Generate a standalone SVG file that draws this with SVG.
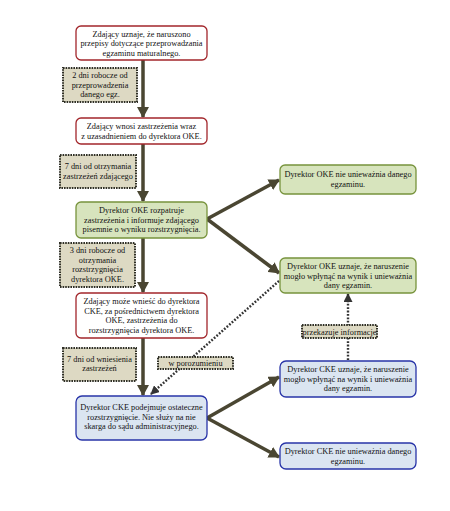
<svg xmlns="http://www.w3.org/2000/svg" width="450" height="511" viewBox="0 0 450 511">
<defs>
<style>
text{font-family:"Liberation Serif","Times New Roman",serif;font-size:8.3px;fill:#111111;text-anchor:middle}
.red{fill:#ffffff;stroke:#a2262b;stroke-width:1.3}
.grn{fill:#d7e4bd;stroke:#77933c;stroke-width:1.3}
.blu{fill:#dbe5f1;stroke:#2834a8;stroke-width:1.3}
.lab{fill:#ddd9c3;stroke:#2f2f25;stroke-width:2;stroke-dasharray:1.6 1}
.arr{stroke:#4a4632;stroke-width:3.5;fill:none}
.dot{stroke:#333333;stroke-width:2.4;stroke-dasharray:1.8 1.6;fill:none}
</style>
<marker id="ah" markerUnits="userSpaceOnUse" markerWidth="12" markerHeight="12" refX="10" refY="6" orient="auto">
<path d="M0,0 L11,6 L0,12 z" fill="#4a4632"/>
</marker>
<marker id="ahd" markerUnits="userSpaceOnUse" markerWidth="9" markerHeight="9" refX="8" refY="4.5" orient="auto">
<path d="M0,0 L9,4.5 L0,9 z" fill="#333333"/>
</marker>
</defs>
<rect width="450" height="511" fill="#ffffff"/>

<g id="connectors">
<line class="arr" x1="143" y1="60" x2="143" y2="117" marker-end="url(#ah)"/>
<line class="arr" x1="143" y1="144" x2="143" y2="201" marker-end="url(#ah)"/>
<line class="arr" x1="143" y1="238" x2="143" y2="292" marker-end="url(#ah)"/>
<line class="arr" x1="143" y1="338" x2="143" y2="395" marker-end="url(#ah)"/>
<line class="arr" x1="207" y1="219" x2="279" y2="180" marker-end="url(#ah)"/>
<line class="arr" x1="207" y1="219" x2="279" y2="273" marker-end="url(#ah)"/>
<line class="arr" x1="207" y1="418" x2="279" y2="377" marker-end="url(#ah)"/>
<line class="arr" x1="207" y1="418" x2="279" y2="457" marker-end="url(#ah)"/>
<line class="dot" x1="279" y1="281" x2="151" y2="394" marker-end="url(#ahd)"/>
<line class="dot" x1="348" y1="360" x2="348" y2="294" marker-end="url(#ahd)"/>
</g>

<g id="n1">
<rect class="red" x="76" y="26" width="131" height="34" rx="5"/>
<text x="141.5" y="36.5">Zdający uznaje, że naruszono</text>
<text x="141.5" y="46">przepisy dotyczące przeprowadzania</text>
<text x="141.5" y="55.5">egzaminu maturalnego.</text>
</g>
<g id="l1">
<rect class="lab" x="63" y="68" width="74" height="34"/>
<text x="100" y="78">2 dni robocze od</text>
<text x="100" y="87.5">przeprowadzenia</text>
<text x="100" y="97">danego egz.</text>
</g>
<g id="n2">
<rect class="red" x="76" y="118" width="131" height="26" rx="5"/>
<text x="141.5" y="129">Zdający wnosi zastrzeżenia wraz</text>
<text x="141.5" y="138.5">z uzasadnieniem do dyrektora OKE.</text>
</g>
<g id="l2">
<rect class="lab" x="60" y="155" width="76" height="33"/>
<text x="98" y="169">7 dni od otrzymania</text>
<text x="98" y="178.5">zastrzeżeń zdającego</text>
</g>
<g id="n3">
<rect class="grn" x="76" y="202" width="131" height="36" rx="5"/>
<text x="141.5" y="213">Dyrektor OKE rozpatruje</text>
<text x="141.5" y="222.5">zastrzeżenia i informuje zdającego</text>
<text x="141.5" y="232">pisemnie o wyniku rozstrzygnięcia.</text>
</g>
<g id="l3">
<rect class="lab" x="60" y="243" width="75" height="44"/>
<text x="97.5" y="253">3 dni robocze od</text>
<text x="97.5" y="262.5">otrzymania</text>
<text x="97.5" y="272">rozstrzygnięcia</text>
<text x="97.5" y="281.5">dyrektora OKE.</text>
</g>
<g id="n4">
<rect class="red" x="76" y="293" width="131" height="45" rx="5"/>
<text x="141.5" y="304">Zdający może wnieść do dyrektora</text>
<text x="141.5" y="313.5">CKE, za pośrednictwem dyrektora</text>
<text x="141.5" y="323">OKE, zastrzeżenia do</text>
<text x="141.5" y="332.5">rozstrzygnięcia dyrektora OKE.</text>
</g>
<g id="l4">
<rect class="lab" x="63" y="348" width="73" height="33"/>
<text x="99.5" y="361.5">7 dni od wniesienia</text>
<text x="99.5" y="371">zastrzeżeń</text>
</g>
<g id="l5">
<rect class="lab" x="158" y="357" width="75" height="12"/>
<text x="195.5" y="366">w porozumieniu</text>
</g>
<g id="n5">
<rect class="blu" x="76" y="396" width="131" height="44" rx="6"/>
<text x="141.5" y="410">Dyrektor CKE podejmuje ostateczne</text>
<text x="141.5" y="419.5">rozstrzygnięcie. Nie służy na nie</text>
<text x="141.5" y="429">skarga do sądu administracyjnego.</text>
</g>
<g id="r1">
<rect class="grn" x="280" y="165" width="136" height="29" rx="5"/>
<text x="348" y="177">Dyrektor OKE nie unieważnia danego</text>
<text x="348" y="186.5">egzaminu.</text>
</g>
<g id="r2">
<rect class="grn" x="280" y="258" width="136" height="35" rx="5"/>
<text x="348" y="269">Dyrektor OKE uznaje, że naruszenie</text>
<text x="348" y="278.5">mogło wpłynąć na wynik i unieważnia</text>
<text x="348" y="288">dany egzamin.</text>
</g>
<g id="l6">
<rect class="lab" x="302" y="325" width="75" height="13"/>
<text x="339.5" y="334.5">przekazuje informacje</text>
</g>
<g id="r3">
<rect class="blu" x="280" y="361" width="136" height="36" rx="6"/>
<text x="348" y="372">Dyrektor CKE uznaje, że naruszenie</text>
<text x="348" y="381.5">mogło wpłynąć na wynik i unieważnia</text>
<text x="348" y="391">dany egzamin.</text>
</g>
<g id="r4">
<rect class="blu" x="280" y="443" width="136" height="26" rx="6"/>
<text x="348" y="454">Dyrektor CKE nie unieważnia danego</text>
<text x="348" y="463.5">egzaminu.</text>
</g>
</svg>
